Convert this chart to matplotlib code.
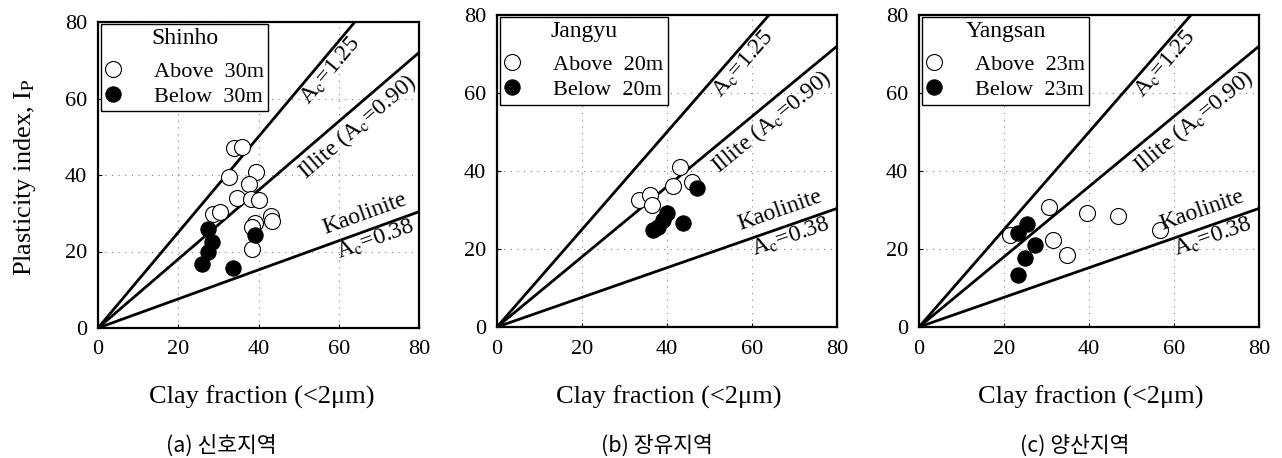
import matplotlib
matplotlib.use("Agg")
import matplotlib.pyplot as plt
import numpy as np

plt.rcParams['font.family'] = ['Liberation Serif', 'DejaVu Serif']
plt.rcParams['mathtext.fontset'] = 'stix'

# ---- data -------------------------------------------------------------
site_names = ["Shinho", "Jangyu", "Yangsan"]
depth_marks = ["30m", "20m", "23m"]
captions = ["(a) 신호지역", "(b) 장유지역", "(c) 양산지역"]

shinho_above_x = [34.0, 35.8, 32.7, 39.5, 37.6, 34.6, 38.1, 40.2, 28.7, 30.4,
                  39.1, 38.3, 43.1, 43.4, 38.5]
shinho_above_y = [47.0, 47.2, 39.6, 40.7, 37.6, 34.0, 33.8, 33.4, 29.7, 30.2,
                  27.5, 26.3, 29.2, 27.9, 20.7]
shinho_below_x = [27.5, 28.3, 27.5, 25.8, 33.7, 39.1]
shinho_below_y = [26.0, 22.5, 19.8, 16.8, 15.6, 24.2]

jangyu_above_x = [33.3, 36.0, 36.4, 41.5, 43.1, 45.8]
jangyu_above_y = [32.6, 33.8, 31.3, 36.2, 40.9, 37.3]
jangyu_below_x = [36.8, 37.9, 39.1, 39.9, 43.8, 47.0]
jangyu_below_y = [25.0, 25.7, 27.4, 29.2, 26.7, 35.6]

yangsan_above_x = [21.4, 30.7, 39.5, 46.9, 56.7, 31.6, 34.8]
yangsan_above_y = [23.6, 30.8, 29.2, 28.5, 24.9, 22.3, 18.5]
yangsan_below_x = [25.3, 23.4, 27.3, 24.9, 23.4]
yangsan_below_y = [26.4, 24.2, 21.0, 17.8, 13.3]

# activity lines: Ip = Ac * clay fraction
activity_values = [1.25, 0.90, 0.38]
axis_ticks = [0, 20, 40, 60, 80]

# ---- figure -----------------------------------------------------------
W, H = 1282, 458
fig = plt.figure(figsize=(W / 100, H / 100), dpi=100)

# axes boxes in pixels: left, top, right, bottom
boxes = [(98, 22, 419, 328), (497, 15, 837, 327), (919, 15, 1259, 327)]
xlabel_cx = [262, 669, 1091]
caption_cx = [221, 657, 1075]

panels = [
    (shinho_above_x, shinho_above_y, shinho_below_x, shinho_below_y),
    (jangyu_above_x, jangyu_above_y, jangyu_below_x, jangyu_below_y),
    (yangsan_above_x, yangsan_above_y, yangsan_below_x, yangsan_below_y),
]

label_size = 17
tick_size = 16

for i, (box, data) in enumerate(zip(boxes, panels)):
    l, t, r, b = box
    ax = fig.add_axes([l / W, 1 - b / H, (r - l) / W, (b - t) / H])
    ax.set_xlim(0, 80)
    ax.set_ylim(0, 80)
    ax.set_xticks(axis_ticks)
    ax.set_yticks(axis_ticks)
    ax.tick_params(direction='in', length=3, width=0.8, labelsize=tick_size)
    ax.tick_params(axis='x', pad=9)
    ax.tick_params(axis='y', pad=8)
    for sp in ax.spines.values():
        sp.set_linewidth(1.6)
        sp.set_color('black')
    ax.grid(True, color='#808080', linewidth=0.8, linestyle=(0, (1, 5)))
    ax.set_axisbelow(True)

    # activity lines
    xs = np.array([0, 80])
    for ac in activity_values:
        ax.plot(xs, ac * xs, color='black', lw=2.0, solid_capstyle='butt',
                zorder=2)

    ax_x, ax_y, bl_x, bl_y = data
    h_open, = ax.plot(ax_x, ax_y, 'o', ms=11.5, mfc='white', mec='black',
                      mew=0.8, ls='none', zorder=3)
    h_fill, = ax.plot(bl_x, bl_y, 'o', ms=11, mfc='black', mec='black',
                      mew=0.8, ls='none', zorder=4)

    # labels along the activity lines
    def line_text(x, y, s, slope):
        ang = np.degrees(np.arctan(slope))
        ax.text(x, y, s, rotation=ang, transform_rotates_text=True,
                rotation_mode='anchor', ha='center', va='center',
                fontsize=label_size, zorder=5)

    line_text(58.0, 67.4, r'A$_{\rm c}$=1.25', 1.25)
    line_text(64.6, 52.6, r'Illite (A$_{\rm c}$=0.90)', 0.90)
    line_text(66.6, 29.8, 'Kaolinite', 0.38)
    line_text(69.2, 23.0, r'A$_{\rm c}$=0.38', 0.38)

    leg = ax.legend([h_open, h_fill],
                    [f"Above  {depth_marks[i]}", f"Below  {depth_marks[i]}"],
                    title=site_names[i], loc='upper left',
                    bbox_to_anchor=(0.008, 0.995), fontsize=16,
                    title_fontsize=17, frameon=True, fancybox=False,
                    edgecolor='black', framealpha=1, handlelength=0.7,
                    handletextpad=1.5, borderpad=0.2, labelspacing=0.2,
                    borderaxespad=0.0)
    leg.get_frame().set_linewidth(1.0)
    # extra room between the site name and the two entries
    leg._legend_box.sep = 9

    fig.text(xlabel_cx[i] / W, 1 - 397 / H, 'Clay fraction (<2μm)',
             ha='center', va='center', fontsize=19)
    fig.text(caption_cx[i] / W, 1 - 446 / H, captions[i], ha='center',
             va='center', fontsize=15.5,
             family=['Noto Sans CJK KR', 'DejaVu Sans'])

fig.text(25 / W, 1 - 177 / H, r'Plasticity index, I$_{\rm P}$', rotation=90,
         ha='center', va='center', fontsize=19)

fig.savefig('out.png', dpi=100)
